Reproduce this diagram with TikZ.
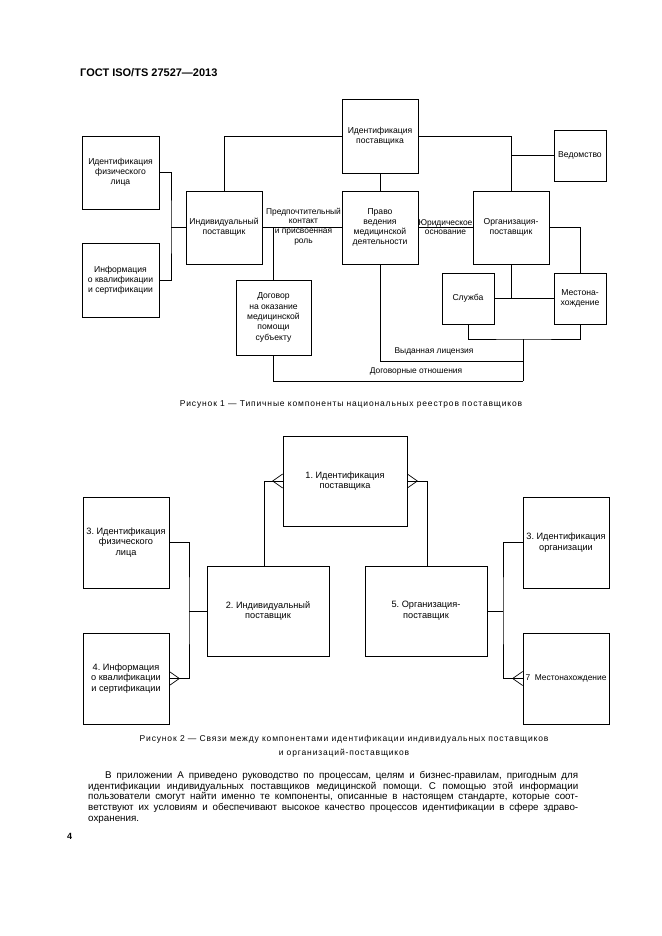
\documentclass[tikz,border=0pt]{standalone}
\usepackage{fontspec}
\setmainfont{Liberation Sans}
\usetikzlibrary{calc}
\frenchspacing
\begin{document}
\begin{tikzpicture}[x=1pt,y=-1pt,
  box/.style={draw, line width=0.7pt, inner sep=0pt, align=center, font=\fontsize{8.6}{9.8}\selectfont},
  boxb/.style={draw, line width=0.7pt, inner sep=0pt, align=center, font=\fontsize{9.2}{10.8}\selectfont},
  lbl/.style={inner sep=0pt, align=center, font=\fontsize{8.4}{9.7}\selectfont},
  ln/.style={line width=0.7pt},
  figcap/.style={inner sep=0pt, align=center, font=\fontsize{8.5}{14}\selectfont\addfontfeature{LetterSpace=10}}]
\fill[white] (0,0) rectangle (661,936);
\useasboundingbox (0,0) rectangle (661,936);

\node[anchor=west, inner sep=0pt, font=\bfseries\fontsize{11}{12}\selectfont] (hdr) at (80,73) {ГОСТ ISO/TS 27527—2013};

% ---------- Figure 1 ----------
\node[box, minimum width=77pt, minimum height=73pt] (fiz) at (120.5,172.5) {Идентификация\\физического\\лица};
\node[box, minimum width=77pt, minimum height=74pt] (kval) at (120.5,280) {Информация\\о квалификации\\и сертификации};
\node[box, minimum width=76pt, minimum height=73pt] (ind) at (224,227.5) {Индивидуальный\\поставщик};
\node[box, minimum width=76pt, minimum height=74pt] (idp) at (380,136) {Идентификация\\поставщика};
\node[box, minimum width=76pt, minimum height=73pt] (pravo) at (380,227.5) {Право\\ведения\\медицинской\\деятельности};
\node[box, minimum width=76pt, minimum height=73pt] (org) at (511,227.5) {Организация-\\поставщик};
\node[box, minimum width=52pt, minimum height=51pt] (ved) at (580,155.5) {Ведомство};
\node[box, minimum width=75pt, minimum height=75pt, font=\fontsize{8.6}{10.4}\selectfont] (dog) at (273.5,317.5) {Договор\\на оказание\\медицинской\\помощи\\субъекту};
\node[box, minimum width=52pt, minimum height=51pt] (sl) at (468,298.5) {Служба};
\node[box, minimum width=52pt, minimum height=51pt] (mest) at (580,298.5) {Местона-\\хождение};

\coordinate (j1) at (171,227.5);
\draw[ln] (fiz.east) -| (j1) |- (kval.east);
\draw[ln] (j1) -- (ind.west);
\draw[ln] (ind.north) |- (idp.west);
\draw[ln] (idp.east) -| (org.north);
\draw[ln] (ved.west) -- (ved.west -| org.north);
\draw[ln] (idp.south) -- (pravo.north);
\draw[ln] (ind.east) -- (pravo.west);
\draw[ln] (dog.north) -- (dog.north |- ind.east);
\draw[ln] (pravo.east) -- (org.west);
\draw[ln] (org.east) -| (mest.north);
\draw[ln] (sl.east) -- (mest.west);
\draw[ln] (org.south) -- (org.south |- sl.east);
\coordinate (b1) at (523,339);
\coordinate (b2) at (523,361);
\coordinate (b3) at (523,381);
\draw[ln] (sl.south) |- (b1) -| (mest.south);
\draw[ln] (b1) -- (b3);
\draw[ln] (pravo.south) |- (b2);
\draw[ln] (dog.south) |- (b3);

\node[lbl] (l1) at (303.5,226.5) {Предпочтительный\\контакт\\и присвоенная\\роль};
\node[lbl] (l2) at (445.5,227) {Юридическое\\основание};
\node[lbl] (l3) at (434,351) {Выданная лицензия};
\node[lbl] (l4) at (416,371) {Договорные отношения};

\node[figcap] (cap1) at (351,404) {Рисунок 1 — Типичные компоненты национальных реестров поставщиков};

% ---------- Figure 2 ----------
\node[boxb, minimum width=124pt, minimum height=90pt] (p1) at (345,481) {1. Идентификация\\поставщика};
\node[boxb, minimum width=122pt, minimum height=90pt] (p2) at (268,611) {2. Индивидуальный\\поставщик};
\node[boxb, minimum width=122pt, minimum height=90pt] (p5) at (426,611) {5. Организация-\\поставщик};
\node[boxb, minimum width=86pt, minimum height=91pt] (p3) at (126,542.5) {3. Идентификация\\физического\\лица};
\node[boxb, minimum width=86pt, minimum height=91pt] (p4) at (126,678.5) {4. Информация\\о квалификации\\и сертификации};
\node[boxb, minimum width=86pt, minimum height=91pt] (p6) at (566,542.5) {3. Идентификация\\организации};
\node[boxb, minimum width=86pt, minimum height=91pt, font=\fontsize{8.4}{10.8}\selectfont] (p7) at (566,678.5) {7\ \ Местонахождение};

\coordinate (c1) at (264,566);
\coordinate (c2) at (427,566);
\coordinate (c3) at (189,611);
\coordinate (c4) at (503,611);
\draw[ln] (c1) |- (p1.west);
\draw[ln] (c2) |- (p1.east);
\draw[ln] (p3.east) -| (c3) |- (p4.east);
\draw[ln] (c3) -- (p2.west);
\draw[ln] (p6.west) -| (c4) |- (p7.west);
\draw[ln] (p5.east) -- (c4);
% crow's feet
\draw[ln] ($(p1.west)+(0,-7)$) -- ($(p1.west)+(-10,0)$) -- ($(p1.west)+(0,7)$);
\draw[ln] ($(p1.east)+(0,-7)$) -- ($(p1.east)+(10,0)$) -- ($(p1.east)+(0,7)$);
\draw[ln] ($(p4.east)+(0,-7)$) -- ($(p4.east)+(10,0)$) -- ($(p4.east)+(0,7)$);
\draw[ln] ($(p7.west)+(0,-7)$) -- ($(p7.west)+(-10,0)$) -- ($(p7.west)+(0,7)$);

\node[figcap] (cap2) at (344,746) {Рисунок 2 — Связи между компонентами идентификации индивидуальных поставщиков\\и организаций-поставщиков};

% ---------- Text ----------
\node[anchor=north west, inner sep=0pt, text width=490pt, align=justify, font=\fontsize{9.8}{10.8}\selectfont] (par) at (88,771)
{\hyphenpenalty=10000 \hspace*{17pt}В приложении А приведено руководство по процессам, целям и бизнес-правилам, пригодным для\linebreak
идентификации индивидуальных поставщиков медицинской помощи. С помощью этой информации\linebreak
пользователи смогут найти именно те компоненты, описанные в настоящем стандарте, которые соот-\linebreak
ветствуют их условиям и обеспечивают высокое качество процессов идентификации в сфере здраво-\linebreak
охранения.};

\node[anchor=west, inner sep=0pt, font=\bfseries\fontsize{9}{10}\selectfont] (pg) at (67,836) {4};
\end{tikzpicture}
\end{document}
